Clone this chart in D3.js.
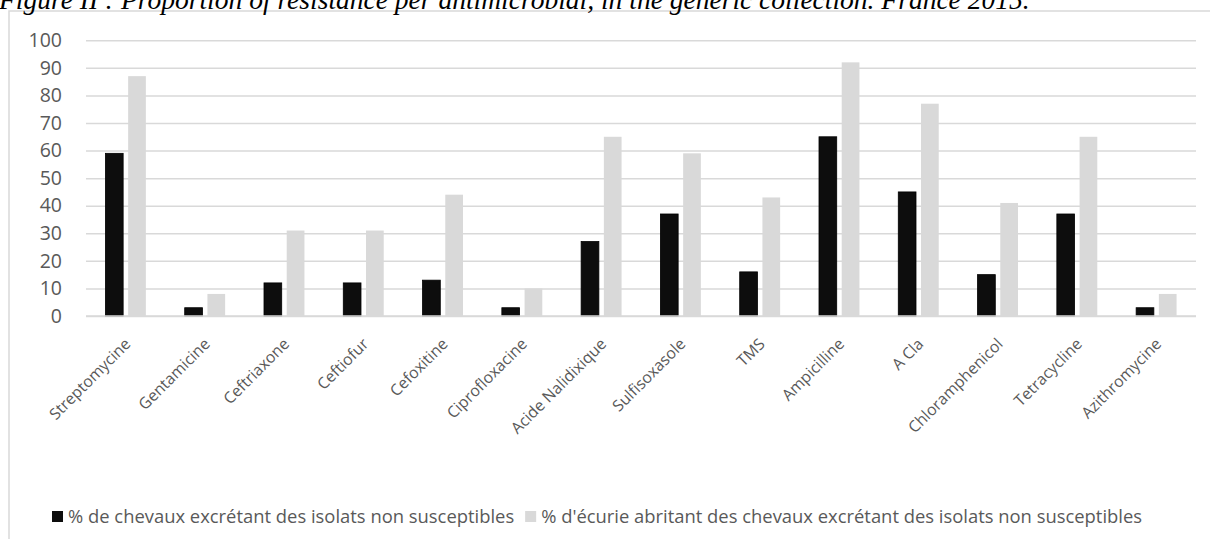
<!DOCTYPE html>
<html>
<head>
<meta charset="utf-8">
<script src="https://cdn.jsdelivr.net/npm/d3@7"></script>
<style>
  body { margin: 0; background: #fff; }
  svg { display: block; }
</style>
</head>
<body>
<svg id="chart" width="1210" height="539"></svg>
<script>
var title = "Figure II : Proportion of resistance per antimicrobial, in the generic collection. France 2015.";

var categories = ["Streptomycine", "Gentamicine", "Ceftriaxone", "Ceftiofur", "Cefoxitine",
  "Ciprofloxacine", "Acide Nalidixique", "Sulfisoxasole", "TMS", "Ampicilline",
  "A Cla", "Chloramphenicol", "Tetracycline", "Azithromycine"];

var seriesNames = ["% de chevaux excrétant des isolats non susceptibles",
  "% d'écurie abritant des chevaux excrétant des isolats non susceptibles"];

var chevaux = [59, 3, 12, 12, 13, 3, 27, 37, 16, 65, 45, 15, 37, 3];
var ecuries = [87, 8, 31, 31, 44, 10, 65, 59, 43, 92, 77, 41, 65, 8];

var yTicks = [0, 10, 20, 30, 40, 50, 60, 70, 80, 90, 100];

var colors = ["#0d0d0d", "#d9d9d9"];

var svg = d3.select("#chart");

// outer frame (chart area border, cut by the page)
svg.append("path")
  .attr("d", "M9,539 V11 H1210")
  .attr("fill", "none")
  .attr("stroke", "#d9d9d9")
  .attr("stroke-width", 1.5);

// title, only partly visible at the top
var t = svg.append("text")
  .attr("x", -1)
  .attr("y", 8.5)
  .style("font-family", "'Liberation Serif', serif")
  .style("font-style", "italic")
  .style("font-size", "24px")
  .attr("fill", "#000")
  .text(title);
var tw = t.node().getComputedTextLength();
t.style("font-size", (24 * 1031 / tw) + "px");

var plotLeft = 86, plotRight = 1196, plotTop = 40.3, plotBottom = 316;

var x0 = d3.scaleBand()
  .domain(categories)
  .range([plotLeft, plotRight])
  .paddingInner(0.49)
  .paddingOuter(0.245);

var x1 = d3.scaleBand()
  .domain([0, 1])
  .range([0, x0.bandwidth()])
  .paddingInner(0.22);

var y = d3.scaleLinear().domain([0, 100]).range([plotBottom, plotTop]);

// gridlines + y labels
var yAxis = d3.axisLeft(y).tickValues(yTicks).tickSize(-(plotRight - plotLeft)).tickPadding(24);
var ga = svg.append("g")
  .attr("transform", "translate(" + plotLeft + ",0)")
  .call(yAxis);
ga.select(".domain").remove();
ga.selectAll(".tick line").attr("stroke", "#d9d9d9").attr("stroke-width", 1.5);
ga.selectAll(".tick text")
  .attr("fill", "#595959")
  .style("font-family", "'Open Sans', sans-serif")
  .style("font-size", "19.5px");

// bars
var rows = categories.map(function(c, i) { return { cat: c, vals: [chevaux[i], ecuries[i]] }; });

var groups = svg.append("g").selectAll("g")
  .data(rows)
  .enter().append("g")
  .attr("transform", function(d) { return "translate(" + x0(d.cat) + ",0)"; });

groups.selectAll("rect")
  .data(function(d) { return d.vals.map(function(v, k) { return { k: k, v: v }; }); })
  .enter().append("rect")
  .attr("x", function(d) { return x1(d.k); })
  .attr("y", function(d) { return y(d.v); })
  .attr("width", x1.bandwidth())
  .attr("height", function(d) { return plotBottom - y(d.v); })
  .attr("fill", function(d) { return colors[d.k]; })
  .attr("stroke", function(d) { return d.k == 0 ? "#000" : "none"; })
  .attr("stroke-width", 0.8);

// baseline over the bars
svg.append("line")
  .attr("x1", plotLeft).attr("x2", plotRight)
  .attr("y1", plotBottom).attr("y2", plotBottom)
  .attr("stroke", "#d9d9d9")
  .attr("stroke-width", 1.5);

// x labels, rotated
svg.append("g").selectAll("text")
  .data(categories)
  .enter().append("text")
  .attr("transform", function(d) {
    return "translate(" + (x0(d) + x0.bandwidth() / 2 + 6) + ",345) rotate(-45)";
  })
  .attr("text-anchor", "end")
  .attr("fill", "#595959")
  .style("font-family", "'Open Sans', sans-serif")
  .style("font-size", "15.8px")
  .text(function(d) { return d; });

// legend
var lx = 52;
var legend = svg.append("g");
seriesNames.forEach(function(name, k) {
  legend.append("rect")
    .attr("x", lx).attr("y", 511)
    .attr("width", 11).attr("height", 11)
    .attr("fill", colors[k]);
  var lt = legend.append("text")
    .attr("x", lx + 16)
    .attr("y", 523)
    .attr("fill", "#595959")
    .style("font-family", "'Open Sans', sans-serif")
    .style("font-size", "18.4px")
    .text(name);
  lx = lx + 16 + lt.node().getComputedTextLength() + 11;
});
</script>
</body>
</html>
